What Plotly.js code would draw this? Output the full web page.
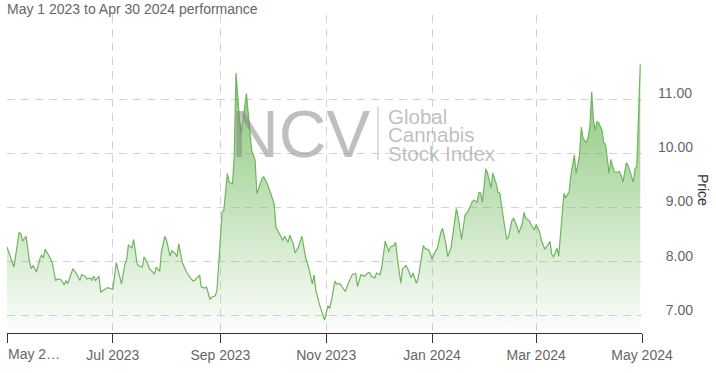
<!DOCTYPE html>
<html>
<head>
<meta charset="utf-8">
<script src="https://cdn.plot.ly/plotly-3.0.1.min.js"></script>
<style>
  html, body { margin: 0; padding: 0; background: #ffffff; }
  #chart { width: 716px; height: 373px; }
</style>
</head>
<body>
<div id="chart"></div>
<script>
// ---- data ----
const dates = [
  '2023-05-01','2023-05-05','2023-05-08','2023-05-09','2023-05-10','2023-05-12','2023-05-14','2023-05-15','2023-05-16','2023-05-18',
  '2023-05-20','2023-05-21','2023-05-22','2023-05-23','2023-05-25','2023-05-27','2023-05-29','2023-05-30','2023-06-01','2023-06-03',
  '2023-06-04','2023-06-05','2023-06-08','2023-06-10','2023-06-12','2023-06-13','2023-06-15','2023-06-16','2023-06-18','2023-06-19',
  '2023-06-20','2023-06-21','2023-06-23','2023-06-24','2023-06-26','2023-06-28','2023-07-01',
  '2023-07-03','2023-07-06','2023-07-08','2023-07-09','2023-07-10','2023-07-12','2023-07-13','2023-07-15','2023-07-16','2023-07-18',
  '2023-07-19','2023-07-21','2023-07-22','2023-07-24','2023-07-25','2023-07-26','2023-07-28','2023-07-29','2023-07-31','2023-08-01',
  '2023-08-03','2023-08-04','2023-08-06','2023-08-07','2023-08-08','2023-08-10','2023-08-12','2023-08-14','2023-08-16','2023-08-17',
  '2023-08-19','2023-08-20','2023-08-21','2023-08-23','2023-08-24','2023-08-26','2023-08-27','2023-08-29','2023-08-30',
  '2023-09-02','2023-09-03','2023-09-05','2023-09-06','2023-09-08','2023-09-09','2023-09-10','2023-09-12','2023-09-13','2023-09-16',
  '2023-09-18','2023-09-19','2023-09-21','2023-09-22','2023-09-23','2023-09-25','2023-09-26','2023-09-28','2023-09-30','2023-10-02',
  '2023-10-03','2023-10-05','2023-10-07','2023-10-08','2023-10-10','2023-10-11','2023-10-13','2023-10-14','2023-10-16','2023-10-18',
  '2023-10-20','2023-10-22','2023-10-24','2023-10-25','2023-10-26','2023-10-28','2023-10-30','2023-10-31','2023-11-02','2023-11-03',
  '2023-11-04',
  '2023-11-06','2023-11-07','2023-11-09','2023-11-10','2023-11-12','2023-11-14','2023-11-16','2023-11-18','2023-11-19','2023-11-21',
  '2023-11-23','2023-11-25','2023-11-26','2023-11-27','2023-11-29','2023-11-30','2023-12-02','2023-12-03','2023-12-05','2023-12-07',
  '2023-12-08','2023-12-10','2023-12-11','2023-12-12','2023-12-14','2023-12-15','2023-12-17','2023-12-18','2023-12-20','2023-12-21',
  '2023-12-23','2023-12-24','2023-12-27','2023-12-28','2023-12-30','2023-12-31','2024-01-01','2024-01-03','2024-01-04','2024-01-06',
  '2024-01-07','2024-01-09','2024-01-10','2024-01-12','2024-01-15','2024-01-16','2024-01-18','2024-01-20','2024-01-21','2024-01-23',
  '2024-01-24','2024-01-25','2024-01-27','2024-01-28','2024-01-29','2024-01-30','2024-02-01','2024-02-02','2024-02-04','2024-02-05',
  '2024-02-07','2024-02-08','2024-02-09','2024-02-11','2024-02-13','2024-02-14','2024-02-16','2024-02-17','2024-02-19','2024-02-20',
  '2024-02-22','2024-02-23','2024-02-24','2024-02-26','2024-02-27','2024-02-29','2024-03-01','2024-03-03','2024-03-04','2024-03-06',
  '2024-03-07','2024-03-09',
  '2024-03-10','2024-03-11','2024-03-13','2024-03-14','2024-03-17','2024-03-18','2024-03-20','2024-03-21','2024-03-23','2024-03-24',
  '2024-03-26','2024-03-27','2024-03-28','2024-03-30','2024-03-31','2024-04-01','2024-04-02','2024-04-03','2024-04-04','2024-04-05',
  '2024-04-06','2024-04-08','2024-04-09','2024-04-10','2024-04-12','2024-04-13','2024-04-15','2024-04-16','2024-04-18','2024-04-19',
  '2024-04-20','2024-04-22','2024-04-23','2024-04-25','2024-04-26','2024-04-27','2024-04-28','2024-04-30'
];
const prices = [
  8.27,7.90,8.54,8.52,8.38,8.47,7.99,7.87,7.93,7.81,
  8.06,8.12,8.07,8.23,8.12,7.99,7.65,7.68,7.67,7.57,
  7.65,7.59,7.87,7.78,7.65,7.76,7.73,7.68,7.70,7.65,
  7.73,7.65,7.73,7.44,7.48,7.52,7.49,
  7.98,7.59,7.96,8.04,8.31,8.25,8.41,7.96,7.92,7.90,
  8.09,7.97,7.87,7.81,7.77,7.90,7.82,8.18,8.47,8.39,
  8.10,8.20,8.15,8.09,8.33,7.99,7.84,7.73,7.65,7.65,
  7.72,7.75,7.53,7.51,7.53,7.30,7.34,7.37,7.46,
  8.92,8.95,9.63,9.47,9.44,9.97,11.49,10.62,10.37,11.11,
  10.49,10.06,9.88,9.26,9.35,9.54,9.57,9.44,9.26,9.07,
  8.64,8.52,8.39,8.47,8.36,8.49,8.33,8.16,8.27,8.47,
  8.09,7.87,7.59,7.75,7.47,7.22,7.04,6.92,7.19,7.13,
  7.28,
  7.64,7.59,7.59,7.54,7.45,7.62,7.76,7.78,7.54,7.76,
  7.73,7.79,7.80,7.73,7.70,7.79,7.76,7.89,8.38,8.18,
  8.27,8.30,8.36,8.06,7.60,7.87,7.93,7.87,7.70,7.79,
  7.60,7.69,8.30,8.24,8.22,8.15,8.04,8.20,8.24,8.53,
  8.62,8.33,8.09,8.27,8.98,8.83,8.41,8.86,8.89,9.02,
  9.10,9.14,9.10,9.28,9.27,9.10,9.72,9.63,9.36,9.64,
  9.44,9.28,9.27,8.83,8.41,8.46,8.76,8.80,8.65,8.53,
  8.70,8.91,8.80,8.76,8.69,8.59,8.69,8.55,8.39,8.23,
  8.27,8.37,
  8.13,8.09,8.25,8.10,9.26,9.18,9.29,9.60,9.97,9.63,
  9.97,10.49,10.28,10.20,10.31,10.52,11.14,10.62,10.43,10.59,
  10.57,10.43,10.20,10.17,9.63,9.89,9.66,9.65,9.67,9.59,
  9.47,9.83,9.78,9.60,9.47,9.72,9.76,11.65
];
const xTickVals = ['2023-05-01','2023-07-01','2023-09-01','2023-11-01','2024-01-01','2024-03-01','2024-05-01'];
const xTickText = ['','Jul 2023','Sep 2023','Nov 2023','Jan 2024','Mar 2024','May 2024'];
const xFirstLabel = 'May 2\u2026';
const yTickVals = [7, 8, 9, 10, 11];
const yTickText = ['\u20077.00','\u20078.00','\u20079.00','10.00','11.00'];
const chartTitle = 'May 1 2023 to Apr 30 2024 performance';
const yTitle = 'Price';
const watermarkBig = 'NCV';
const watermarkLines = ['Global', 'Cannabis', 'Stock Index'];

const FONT = 'Liberation Sans, Arial, Helvetica, sans-serif';
const wm = 'rgba(128,128,128,0.5)';

const trace = {
  type: 'scatter',
  mode: 'lines',
  x: dates,
  y: prices,
  line: { color: '#6fb55c', width: 1.2 },
  fill: 'tozeroy',
  fillgradient: {
    type: 'vertical',
    start: 6.68,
    stop: 11.7,
    colorscale: [[0, 'rgba(110,185,90,0.02)'], [1, 'rgba(110,185,90,0.85)']]
  },
  hoverinfo: 'skip'
};

const lineY = [116, 134.5, 153];
const wmAnnotations = watermarkLines.map((t, i) => ({
  text: t, xref: 'paper', yref: 'paper', x: (387 - 7) / 635, y: (333 - lineY[i]) / 318,
  xanchor: 'left', yanchor: 'middle', showarrow: false, borderpad: 0, height: 17,
  font: { family: FONT, size: 20.5, color: wm }
}));

const layout = {
  width: 716,
  height: 373,
  margin: { l: 7, r: 74, t: 15, b: 40, pad: 0 },
  paper_bgcolor: '#ffffff',
  plot_bgcolor: '#ffffff',
  showlegend: false,
  font: { family: FONT, size: 14, color: '#666666' },
  title: {
    text: chartTitle,
    font: { family: FONT, size: 14, color: '#666666' },
    x: 7 / 716, xanchor: 'left', xref: 'container',
    y: 1 - 9 / 373, yanchor: 'middle', yref: 'container'
  },
  xaxis: {
    type: 'date',
    range: ['2023-05-01', '2024-05-01'],
    tickmode: 'array',
    tickvals: xTickVals,
    ticktext: xTickText,
    ticklabeloverflow: 'allow',
    ticks: 'outside',
    ticklen: 9,
    tickcolor: '#333333',
    tickwidth: 1,
    showline: true,
    linecolor: '#333333',
    linewidth: 1,
    showgrid: true,
    gridcolor: '#d3d3d3',
    griddash: '8px,6px',
    gridwidth: 1,
    zeroline: false,
    tickfont: { family: FONT, size: 14, color: '#666666' },
    fixedrange: true
  },
  yaxis: {
    side: 'right',
    range: [6.68, 12.563],
    tickmode: 'array',
    tickvals: yTickVals,
    ticktext: yTickText,
    ticks: '',
    ticklabelstandoff: 15,
    ticklabelshift: -6,
    showline: false,
    showgrid: true,
    gridcolor: '#d3d3d3',
    griddash: '8px,6px',
    gridwidth: 1,
    zeroline: false,
    tickfont: { family: FONT, size: 14, color: '#666666' },
    fixedrange: true
  },
  shapes: [
    { type: 'line', xref: 'paper', yref: 'paper',
      x0: (378 - 7) / 635, x1: (378 - 7) / 635,
      y0: (333 - 160) / 318, y1: (333 - 106) / 318,
      line: { color: wm, width: 1 }, layer: 'above' }
  ],
  annotations: [
    { text: xFirstLabel, xref: 'x', yref: 'paper', x: xTickVals[0], y: (333 - 354) / 318,
      xanchor: 'left', yanchor: 'middle', showarrow: false, borderpad: 0,
      font: { family: FONT, size: 14, color: '#666666' } },
    { text: yTitle, xref: 'paper', yref: 'paper', x: (703 - 7) / 635, y: (333 - 190) / 318,
      xanchor: 'center', yanchor: 'middle', textangle: 90, showarrow: false,
      font: { family: FONT, size: 14, color: '#333333' } },
    { text: watermarkBig, xref: 'paper', yref: 'paper', x: (229 - 7) / 635, y: (333 - 134) / 318,
      xanchor: 'left', yanchor: 'middle', showarrow: false,
      font: { family: FONT, size: 66, color: wm } }
  ].concat(wmAnnotations)
};

Plotly.newPlot('chart', [trace], layout, { displayModeBar: false, staticPlot: true, responsive: false });
</script>
</body>
</html>
